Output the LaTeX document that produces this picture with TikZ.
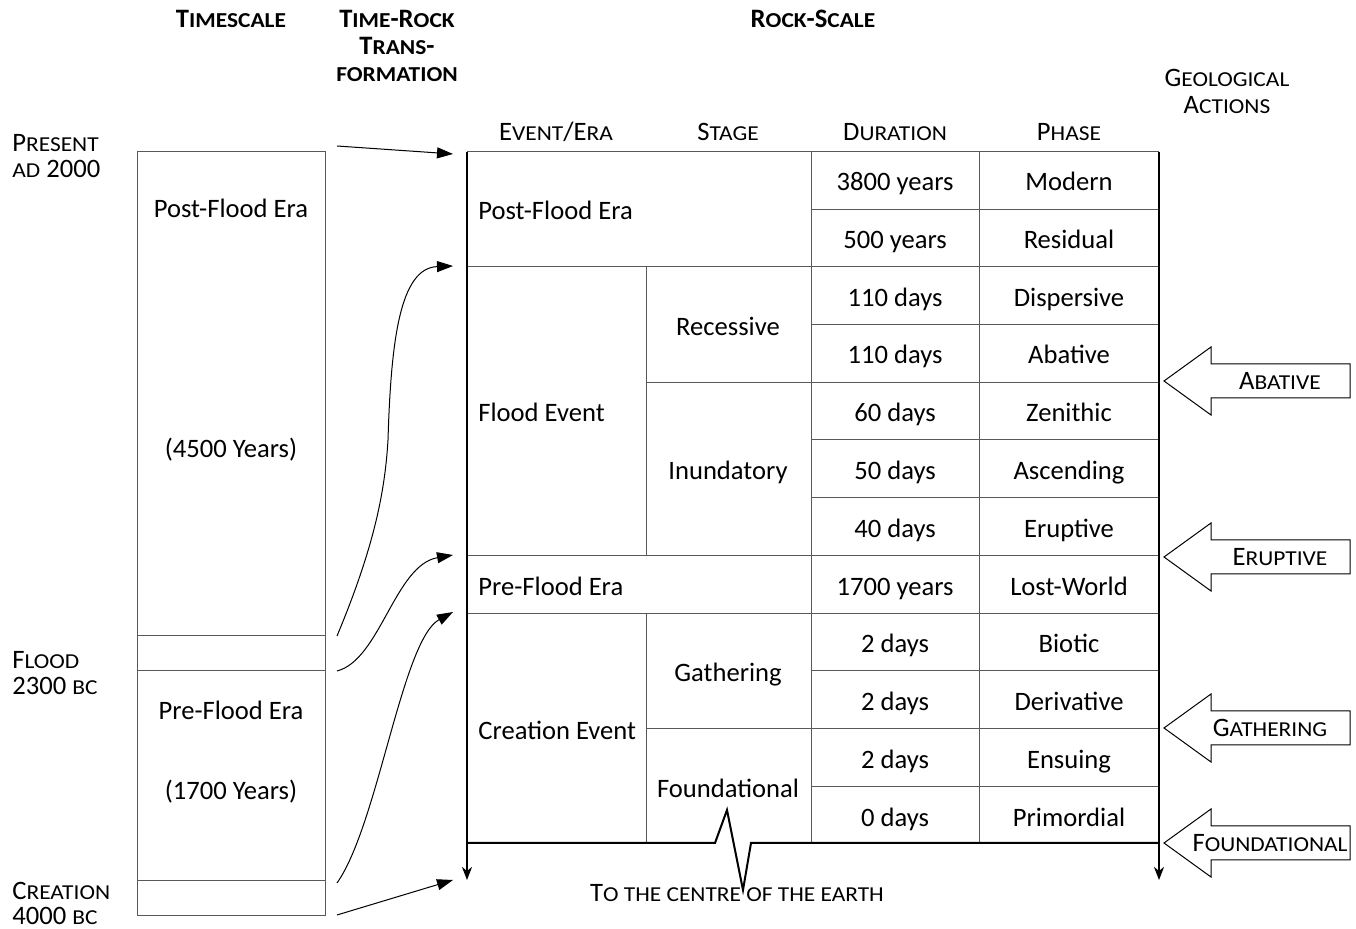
\documentclass[tikz,border=0pt]{standalone}
\usepackage{fontspec}
\usepackage{graphicx}
\setmainfont{Carlito}
\usetikzlibrary{arrows.meta}
\newcommand\sm[1]{\scalebox{0.88}[0.8]{#1}}
\begin{document}
\begin{tikzpicture}[x=0.5pt,y=-0.5pt,
  font=\fontsize{13.3}{15}\selectfont,
  lbl/.style={inner sep=0pt, anchor=center, text height=8.5pt, text depth=0pt},
  side/.style={lbl, anchor=west},
  head/.style={lbl, text height=8.5pt, font=\fontsize{13.3}{15}\selectfont\bfseries},
  grid/.style={draw=black!65, line width=0.5pt},
  outer/.style={draw=black, line width=1pt},
  tbox/.style={draw=black!65, line width=0.5pt},
  trans/.style={draw=black, line width=0.5pt, -{Triangle[length=8pt,width=5.5pt]}},
  downarr/.style={-{Stealth[length=6.5pt,width=5pt,inset=2pt]}},
  blockarr/.style={draw=black, line width=0.5pt, fill=white}
]
\useasboundingbox (0,0) rectangle (1356,929);

% headings
\node[head] (hts) at (231,19) {T\sm{IMESCALE}};
\node[head] (htr1) at (397,19) {T\sm{IME}-R\sm{OCK}};
\node[head] (htr2) at (397,46) {T\sm{RANS}-};
\node[head] (htr3) at (397,73) {\sm{FORMATION}};
\node[head] (hrs) at (813,19) {R\sm{OCK}-S\sm{CALE}};
\node[lbl] (hga1) at (1227,78) {G\sm{EOLOGICAL}};
\node[lbl] (hga2) at (1227,105) {A\sm{CTIONS}};

% side labels
\node[side] (lp1) at (12,143) {P\sm{RESENT}};
\node[side] (lp2) at (12,169) {\sm{AD} 2000};
\node[side] (lf1) at (12,660) {F\sm{LOOD}};
\node[side] (lf2) at (12,686) {2300 \sm{BC}};
\node[side] (lc1) at (12,891) {C\sm{REATION}};
\node[side] (lc2) at (12,916) {4000 \sm{BC}};

% timescale box
\draw[tbox] (137,152) rectangle (325,916);
\draw[tbox] (137,636) -- (325,636);
\draw[tbox] (137,671) -- (325,671);
\draw[tbox] (137,881) -- (325,881);
\node[lbl] (t1) at (231,209) {Post-Flood Era};
\node[lbl] (t2) at (231,449) {(4500 Years)};
\node[lbl] (t3) at (231,711) {Pre-Flood Era};
\node[lbl] (t4) at (231,791) {(1700 Years)};

% column headers
\node[lbl] (c1) at (556,132) {E\sm{VENT}/E\sm{RA}};
\node[lbl] (c2) at (728,132) {S\sm{TAGE}};
\node[lbl] (c3) at (895,132) {D\sm{URATION}};
\node[lbl] (c4) at (1069,132) {P\sm{HASE}};

% table grid
\draw[grid] (467,152) -- (1159,152);
\foreach \y in {210,325,440,498,671,787} \draw[grid] (811,\y) -- (1159,\y);
\foreach \y in {267,556,614} \draw[grid] (467,\y) -- (1159,\y);
\foreach \y in {383,729} \draw[grid] (646,\y) -- (1159,\y);
\draw[grid] (646,267) -- (646,556);
\draw[grid] (646,614) -- (646,843);
\draw[grid] (811,152) -- (811,843);
\draw[grid] (979,152) -- (979,843);

% outer frame
\coordinate (tl) at (467,152);
\coordinate (tr) at (1159,152);
\coordinate (bl) at (467,880);
\coordinate (br) at (1159,880);
\draw[outer, downarr] (tl) -- (bl);
\draw[outer, downarr] (tr) -- (br);
\draw[outer, line join=miter] (467,843) -- (715,843) -- (727,810) -- (743,890) -- (751,843) -- (1159,843);

\node[lbl] (earth) at (737,893) {T\sm{O THE CENTRE OF THE EARTH}};

% table texts
\node[lbl, anchor=west] (e1) at (478,211) {Post-Flood Era};
\node[lbl, anchor=west] (e2) at (478,413) {Flood Event};
\node[lbl, anchor=west] (e3) at (478,587) {Pre-Flood Era};
\node[lbl, anchor=west] (e4) at (478,731) {Creation Event};
\node[lbl] (s1) at (728,327) {Recessive};
\node[lbl] (s2) at (728,471) {Inundatory};
\node[lbl] (s3) at (728,673) {Gathering};
\node[lbl] (s4) at (728,789) {Foundational};

\node[lbl] (d1) at (895,182) {3800 years};
\node[lbl] (d2) at (895,240) {500 years};
\node[lbl] (d3) at (895,298) {110 days};
\node[lbl] (d4) at (895,355) {110 days};
\node[lbl] (d5) at (895,413) {60 days};
\node[lbl] (d6) at (895,471) {50 days};
\node[lbl] (d7) at (895,529) {40 days};
\node[lbl] (d8) at (895,587) {1700 years};
\node[lbl] (d9) at (895,644) {2 days};
\node[lbl] (d10) at (895,702) {2 days};
\node[lbl] (d11) at (895,760) {2 days};
\node[lbl] (d12) at (895,818) {0 days};

\node[lbl] (p1) at (1069,182) {Modern};
\node[lbl] (p2) at (1069,240) {Residual};
\node[lbl] (p3) at (1069,298) {Dispersive};
\node[lbl] (p4) at (1069,355) {Abative};
\node[lbl] (p5) at (1069,413) {Zenithic};
\node[lbl] (p6) at (1069,471) {Ascending};
\node[lbl] (p7) at (1069,529) {Eruptive};
\node[lbl] (p8) at (1069,587) {Lost-World};
\node[lbl] (p9) at (1069,644) {Biotic};
\node[lbl] (p10) at (1069,702) {Derivative};
\node[lbl] (p11) at (1069,760) {Ensuing};
\node[lbl] (p12) at (1069,818) {Primordial};

% transformation arrows
\coordinate (a1s) at (337,146); \coordinate (a1e) at (453,154);
\coordinate (a2s) at (337,636); \coordinate (a2e) at (453,266);
\coordinate (a3s) at (337,671); \coordinate (a3e) at (453,555);
\coordinate (a4s) at (337,883); \coordinate (a4e) at (453,612);
\coordinate (a5s) at (337,915); \coordinate (a5e) at (453,880);
\draw[trans] (a1s) -- (a1e);
\draw[trans] (a2s) .. controls (375,545) and (385,490) .. (388,440) .. controls (391,340) and (400,268) .. (a2e);
\draw[trans] (a3s) .. controls (380,660) and (395,565) .. (a3e);
\draw[trans] (a4s) .. controls (378,825) and (402,640) .. (a4e);
\draw[trans] (a5s) -- (a5e);

% geological action block arrows
\foreach \cy/\first/\rest/\tx in {381/A/BATIVE/1280, 557/E/RUPTIVE/1280, 728/G/ATHERING/1270, 843/F/OUNDATIONAL/1270}{
  \draw[blockarr] (1164,\cy) -- (1211,\cy-34) -- (1211,\cy-17) -- (1350,\cy-17) -- (1350,\cy+17) -- (1211,\cy+17) -- (1211,\cy+34) -- cycle;
  \node[lbl] (g\rest) at (\tx,\cy) {\first\sm{\rest}};
}
\end{tikzpicture}
\end{document}
